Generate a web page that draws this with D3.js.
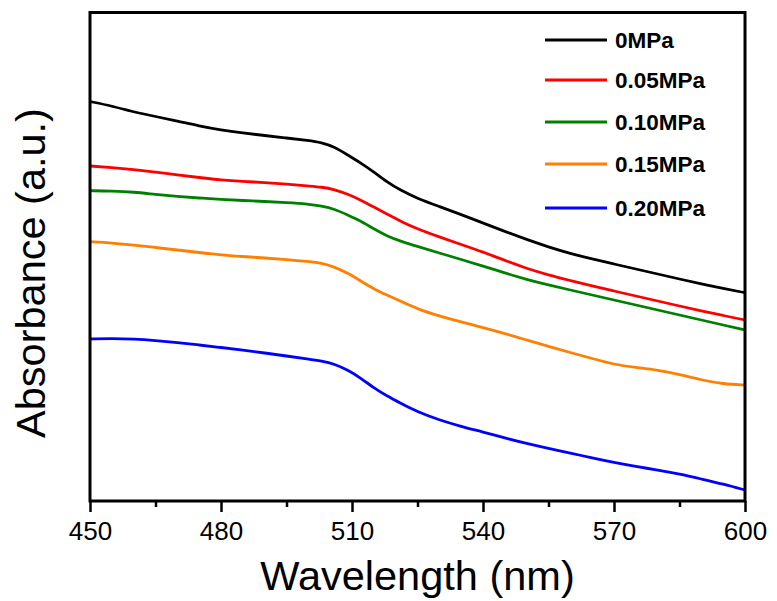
<!DOCTYPE html>
<html>
<head>
<meta charset="utf-8">
<script src="https://cdn.jsdelivr.net/npm/d3@7"></script>
<style>
  html, body { margin: 0; padding: 0; background: #fff; }
  svg { display: block; font-family: "Liberation Sans", Arial, sans-serif; }
</style>
</head>
<body>
<svg id="chart" width="777" height="601"></svg>
<script>
// ---- data ----
const wavelengths = [450,455,460,465,470,475,480,485,490,495,500,503,506,509,512,515,518,521,525,530,535,540,545,550,555,560,565,570,575,580,585,590,595,600];
const seriesNames = ["0MPa","0.05MPa","0.10MPa","0.15MPa","0.20MPa"];
const seriesColors = ["#000000","#ff0000","#008000","#ff8000","#0000ff"];
const abs0 = [3.995,3.95,3.89,3.845,3.80,3.75,3.71,3.68,3.655,3.63,3.605,3.585,3.54,3.46,3.38,3.29,3.19,3.11,3.025,2.945,2.865,2.78,2.695,2.615,2.54,2.475,2.42,2.37,2.32,2.27,2.22,2.17,2.125,2.083];
const abs005 = [3.35,3.335,3.315,3.29,3.26,3.235,3.21,3.195,3.185,3.17,3.15,3.14,3.115,3.07,3.01,2.94,2.87,2.80,2.72,2.64,2.565,2.49,2.405,2.325,2.26,2.205,2.15,2.10,2.05,2.00,1.95,1.90,1.855,1.81];
const abs010 = [3.103,3.10,3.09,3.065,3.045,3.03,3.015,3.005,2.995,2.985,2.97,2.95,2.92,2.86,2.80,2.72,2.65,2.60,2.545,2.48,2.415,2.35,2.28,2.215,2.16,2.11,2.06,2.01,1.96,1.91,1.86,1.81,1.76,1.71];
const abs015 = [2.593,2.58,2.56,2.535,2.51,2.485,2.46,2.445,2.43,2.415,2.395,2.38,2.34,2.28,2.20,2.12,2.06,2.00,1.92,1.85,1.79,1.735,1.675,1.61,1.545,1.485,1.425,1.365,1.335,1.31,1.265,1.21,1.17,1.16];
const abs020 = [1.62,1.625,1.62,1.605,1.585,1.56,1.535,1.51,1.48,1.45,1.42,1.40,1.37,1.31,1.23,1.13,1.05,0.98,0.89,0.81,0.745,0.69,0.63,0.575,0.525,0.48,0.43,0.385,0.345,0.31,0.27,0.22,0.17,0.11];
const seriesValues = [abs0, abs005, abs010, abs015, abs020];
const majorTicks = [450,480,510,540,570,600];
const minorTicks = [465,495,525,555,585];
const xTitle = "Wavelength (nm)";
const yTitle = "Absorbance (a.u.)";

// ---- layout ----
const L = 90, R = 745, T = 12.5, B = 501;
const svg = d3.select("#chart");
const x = d3.scaleLinear().domain([450, 600]).range([L, R]);
const y = d3.scaleLinear().domain([0, 4.885]).range([B, T]);

const line = d3.line()
  .x(d => x(d[0]))
  .y(d => y(d[1]))
  .curve(d3.curveBasis);

svg.append("defs").append("clipPath").attr("id", "clip")
  .append("rect").attr("x", L).attr("y", T).attr("width", R - L).attr("height", B - T);

const gLines = svg.append("g").attr("clip-path", "url(#clip)");
seriesValues.forEach((vals, i) => {
  const pts = wavelengths.map((w, j) => [w, vals[j]]);
  gLines.append("path")
    .attr("d", line(pts))
    .attr("fill", "none")
    .attr("stroke", seriesColors[i])
    .attr("stroke-width", 2.8)
    .attr("stroke-linejoin", "round");
});

// bottom axis major
const axMajor = d3.axisBottom(x).tickValues(majorTicks).tickSize(11).tickPadding(8).tickFormat(d3.format("d"));
const gx = svg.append("g").attr("transform", `translate(0,${B})`).call(axMajor);
gx.select(".domain").remove();
gx.selectAll(".tick line").attr("stroke", "#000").attr("stroke-width", 2.5);
gx.selectAll(".tick text")
  .attr("font-size", 26).attr("fill", "#000")
  .attr("font-family", "'Liberation Sans', Arial, sans-serif")
  .attr("y", 39).attr("dy", 0);

const axMinor = d3.axisBottom(x).tickValues(minorTicks).tickSize(6).tickFormat("");
const gxm = svg.append("g").attr("transform", `translate(0,${B})`).call(axMinor);
gxm.select(".domain").remove();
gxm.selectAll(".tick line").attr("stroke", "#000").attr("stroke-width", 2.5);

// frame
svg.append("rect")
  .attr("x", L).attr("y", T).attr("width", R - L).attr("height", B - T)
  .attr("fill", "none").attr("stroke", "#000").attr("stroke-width", 3);

// titles
svg.append("text")
  .attr("x", (L + R) / 2).attr("y", 590)
  .attr("text-anchor", "middle")
  .attr("font-size", 41.5)
  .attr("fill", "#000")
  .text(xTitle);

svg.append("text")
  .attr("transform", "translate(45,273) rotate(-90)")
  .attr("text-anchor", "middle")
  .attr("font-size", 41.5)
  .attr("fill", "#000")
  .text(yTitle);

// legend
const legendY = [40, 80, 122, 164, 208];
const lg = svg.append("g");
seriesNames.forEach((name, i) => {
  lg.append("line")
    .attr("x1", 545).attr("x2", 607)
    .attr("y1", legendY[i]).attr("y2", legendY[i])
    .attr("stroke", seriesColors[i]).attr("stroke-width", 3);
  lg.append("text")
    .attr("x", 615).attr("y", legendY[i])
    .attr("dy", "0.36em")
    .attr("font-size", 22.5)
    .attr("font-weight", "bold")
    .attr("fill", "#000")
    .text(name);
});
</script>
</body>
</html>
